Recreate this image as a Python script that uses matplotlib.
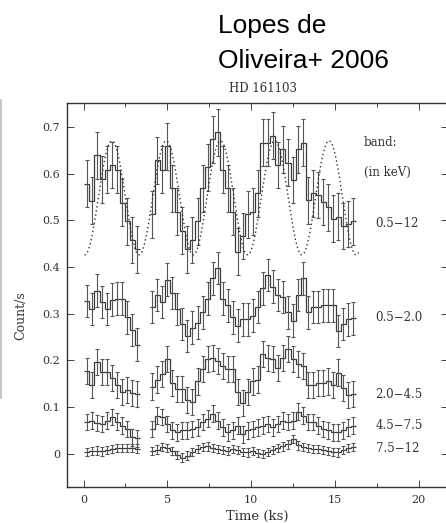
import numpy as np
import matplotlib
matplotlib.use("Agg")
import matplotlib.pyplot as plt
from matplotlib.lines import Line2D

# ---------------- data ----------------
bin_width = 0.30          # ks
seg1_start = 0.05         # ks
seg2_start = 3.95         # ks
n_seg1 = 11               # bins before the gap

band_0p5_12 = [0.578, 0.542, 0.639, 0.588, 0.608, 0.618, 0.608, 0.538, 0.498, 0.458, 0.438,
               0.513, 0.628, 0.608, 0.658, 0.568, 0.518, 0.478, 0.438, 0.458, 0.498, 0.568,
               0.613, 0.673, 0.688, 0.608, 0.568, 0.518, 0.433, 0.466, 0.513, 0.518, 0.558,
               0.666, 0.666, 0.681, 0.618, 0.652, 0.623, 0.586, 0.652, 0.666, 0.543, 0.558,
               0.554, 0.539, 0.528, 0.503, 0.508, 0.488, 0.492, 0.498]
err_0p5_12 = [0.05] * 52

band_0p5_2 = [0.327, 0.310, 0.349, 0.325, 0.310, 0.330, 0.332, 0.332, 0.292, 0.265, 0.234,
              0.314, 0.340, 0.325, 0.373, 0.344, 0.310, 0.278, 0.252, 0.270, 0.281, 0.303,
              0.332, 0.376, 0.398, 0.332, 0.318, 0.292, 0.274, 0.288, 0.288, 0.296, 0.314,
              0.354, 0.383, 0.358, 0.340, 0.336, 0.303, 0.285, 0.340, 0.376, 0.303, 0.314,
              0.314, 0.318, 0.318, 0.318, 0.263, 0.278, 0.288, 0.290]
err_0p5_2 = [0.035] * 52

band_2_4p5 = [0.177, 0.148, 0.196, 0.175, 0.175, 0.163, 0.148, 0.133, 0.137, 0.131, 0.128,
              0.144, 0.159, 0.170, 0.203, 0.152, 0.139, 0.139, 0.115, 0.111, 0.155, 0.181,
              0.203, 0.206, 0.199, 0.188, 0.181, 0.181, 0.133, 0.108, 0.133, 0.155, 0.159,
              0.214, 0.206, 0.203, 0.184, 0.206, 0.225, 0.203, 0.192, 0.188, 0.148, 0.148,
              0.152, 0.152, 0.155, 0.148, 0.174, 0.141, 0.126, 0.128]
err_2_4p5 = [0.028] * 52

band_4p5_7p5 = [0.068, 0.071, 0.066, 0.064, 0.071, 0.079, 0.069, 0.060, 0.053, 0.035, 0.033,
                0.053, 0.082, 0.079, 0.064, 0.050, 0.046, 0.050, 0.050, 0.053, 0.057, 0.068,
                0.075, 0.086, 0.071, 0.057, 0.046, 0.050, 0.060, 0.042, 0.050, 0.053, 0.057,
                0.060, 0.064, 0.057, 0.064, 0.071, 0.068, 0.071, 0.090, 0.082, 0.068, 0.068,
                0.060, 0.053, 0.050, 0.046, 0.046, 0.050, 0.057, 0.060]
err_4p5_7p5 = [0.018] * 52

band_7p5_12 = [0.004, 0.006, 0.007, 0.005, 0.008, 0.010, 0.012, 0.013, 0.012, 0.012, 0.011,
               0.006, 0.009, 0.014, 0.012, 0.006, -0.002, -0.008, -0.004, 0.004, 0.010, 0.014,
               0.016, 0.012, 0.010, 0.008, 0.006, 0.010, 0.008, 0.004, 0.003, 0.006, 0.002,
               0.000, 0.004, 0.008, 0.012, 0.016, 0.020, 0.032, 0.018, 0.014, 0.012, 0.010,
               0.010, 0.008, 0.006, 0.004, 0.003, 0.008, 0.012, 0.014]
err_7p5_12 = [0.009] * 52

band_labels = ["0.5\u221212", "0.5\u22122.0", "2.0\u22124.5", "4.5\u22127.5", "7.5\u221212"]
label_y = [0.493, 0.291, 0.126, 0.060, 0.011]

# dotted model sine (parameters)
model_period = 3.24
model_peak_t = 1.69
model_mean = 0.548
model_amp = 0.122
model_t0, model_t1 = 0.05, 16.42

x_ticks = [0, 5, 10, 15, 20]
y_ticks = [0, 0.1, 0.2, 0.3, 0.4, 0.5, 0.6, 0.7]
y_tick_labels = ["0", "0.1", "0.2", "0.3", "0.4", "0.5", "0.6", "0.7"]

# ---------------- plot ----------------
W, H = 446, 523
fig = plt.figure(figsize=(W / 100, H / 100), dpi=100)
ax = fig.add_axes([67 / W, 1 - 487 / H, 381 / W, (487 - 103) / H])

serif = ["DejaVu Serif"]
col = "#3a3a3a"
tcol = "#333333"

n1 = n_seg1
series = [(band_0p5_12, err_0p5_12), (band_0p5_2, err_0p5_2), (band_2_4p5, err_2_4p5),
          (band_4p5_7p5, err_4p5_7p5), (band_7p5_12, err_7p5_12)]
for vals, errs in series:
    vals = np.asarray(vals)
    errs = np.asarray(errs)
    segs = [(seg1_start, vals[:n1], errs[:n1]), (seg2_start, vals[n1:], errs[n1:])]
    for start, v, e in segs:
        edges = start + bin_width * np.arange(len(v) + 1)
        ax.stairs(v, edges, baseline=None, color=col, lw=0.9)
        centers = 0.5 * (edges[:-1] + edges[1:])
        ax.errorbar(centers, v, yerr=e, fmt="none", ecolor="#555555", elinewidth=0.8,
                    capsize=1.6, capthick=0.8)

tm = np.linspace(model_t0, model_t1, 400)
ym = model_mean + model_amp * np.cos(2 * np.pi * (tm - model_peak_t) / model_period)
ax.plot(tm, ym, color="#333333", lw=1.0, ls=(0, (1, 2)))

ax.set_xlim(-0.99, 21.75)
ax.set_ylim(-0.071, 0.751)
ax.set_xticks(x_ticks)
ax.set_xticks([2.5, 7.5, 12.5, 17.5], minor=True)
ax.set_yticks(y_ticks)
ax.set_yticklabels(y_tick_labels)
ax.tick_params(which="both", direction="in", top=True, right=True, color="#444444",
               labelsize=8, width=0.7)
ax.tick_params(which="major", length=5)
ax.tick_params(which="minor", length=3)
ax.tick_params(axis="y", pad=5)
ax.tick_params(axis="x", pad=6)
for lab in ax.get_xticklabels() + ax.get_yticklabels():
    lab.set_fontfamily(serif)
    lab.set_color(tcol)
for s in ax.spines.values():
    s.set_color("#333333")
    s.set_linewidth(1.0)

ax.set_xlabel("Time (ks)", fontfamily=serif, fontsize=9.5, color=tcol, labelpad=3)
ax.set_ylabel("Count/s", fontfamily=serif, fontsize=9, color=tcol, labelpad=10)
ax.yaxis.set_label_coords(-0.105, (487 - 316) / 384)

ax.text(16.73, 0.666, "band:", fontfamily=serif, fontsize=8.5, color=tcol, va="center")
ax.text(16.73, 0.603, "(in keV)", fontfamily=serif, fontsize=8.5, color=tcol, va="center")
for txt, yy in zip(band_labels, label_y):
    ax.text(17.43, yy, txt, fontfamily=serif, fontsize=8.5, color=tcol, va="center")

fig.text(263 / W, 1 - 88 / H, "HD 161103", fontfamily=serif, fontsize=8.5, color=tcol,
         ha="center", va="center")
fig.text(218 / W, 1 - 33 / H, "Lopes de", fontfamily=["Liberation Sans"],
         fontsize=19, color="black", ha="left", va="baseline")
fig.text(218 / W, 1 - 68 / H, "Oliveira+ 2006", fontfamily=["Liberation Sans"],
         fontsize=19, color="black", ha="left", va="baseline")

fig.add_artist(Line2D([1 / W, 1 / W], [1 - 100 / H, 1 - 398 / H], transform=fig.transFigure,
                      color="#bbbbbb", lw=1.2))

fig.savefig("out.png", dpi=100)
